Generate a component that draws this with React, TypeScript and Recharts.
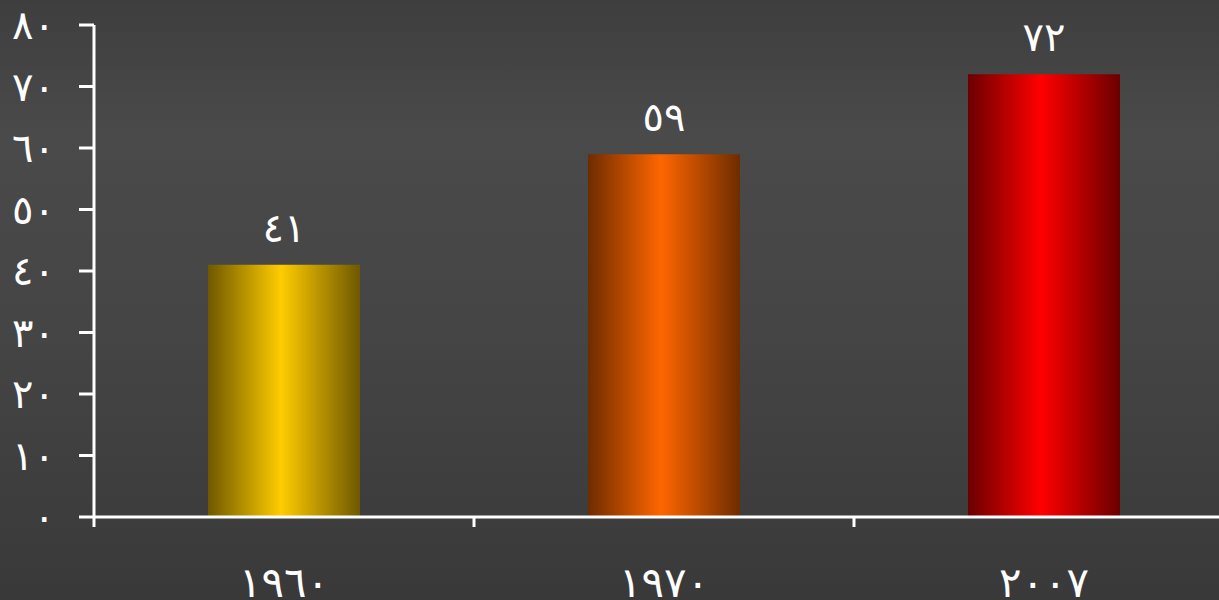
import React from 'react';
import { BarChart, Bar, XAxis, YAxis, Cell, LabelList } from 'recharts';

const categories = ['١٩٦٠', '١٩٧٠', '٢٠٠٧'];
const values = [41, 59, 72];
const yTicks = [0, 10, 20, 30, 40, 50, 60, 70, 80];
const frameTicks = [0, 1, 2, 3];
const barEdgeColors = ['#6f5800', '#6e2c00', '#6a0000'];
const barMidColors = ['#ffcc00', '#ff6600', '#ff0000'];

const AR = '٠١٢٣٤٥٦٧٨٩';
const toArabic = (n: number | string) => String(n).replace(/[0-9]/g, (d) => AR[Number(d)]);

const data = categories.map((c, i) => ({ name: c, value: values[i], pos: i + 0.5 }));

const FONT = '"DejaVu Sans", sans-serif';

export default function App() {
  return (
    <div style={{ position: 'fixed', left: 0, top: 0, width: 1219, height: 600, overflow: 'hidden',
      background: 'linear-gradient(to bottom, #3e3e3e 0%, #4a4a4a 22%, #454545 55%, #393939 100%)' }}>
      <BarChart width={1234} height={600} data={data}
        margin={{ top: 25, right: 0, left: 0, bottom: 0 }} barCategoryGap="30%">
        <defs>
          {barMidColors.map((c, i) => (
            <linearGradient key={i} id={`g${i}`} x1="0" y1="0" x2="1" y2="0">
              <stop offset="0%" stopColor={barEdgeColors[i]} />
              <stop offset="48%" stopColor={c} />
              <stop offset="100%" stopColor={barEdgeColors[i]} />
            </linearGradient>
          ))}
        </defs>
        <XAxis xAxisId={0} dataKey="pos" type="number" scale="linear" domain={[0, 3]} ticks={frameTicks}
          height={10} axisLine={{ stroke: '#ffffff', strokeWidth: 3 }}
          tickLine={{ stroke: '#ffffff', strokeWidth: 3 }} tickSize={10}
          tickFormatter={() => ''} allowDataOverflow interval={0} />
        <XAxis xAxisId="lbl" dataKey="name" height={73} axisLine={false} tickLine={false} tickSize={0} tickMargin={40}
          tick={{ fill: '#ffffff', fontSize: 42, fontFamily: FONT }} interval={0} />
        <YAxis domain={[0, 80]} ticks={yTicks} width={94} tickSize={15} tickMargin={24}
          axisLine={{ stroke: '#ffffff', strokeWidth: 3 }} tickLine={{ stroke: '#ffffff', strokeWidth: 3 }}
          tick={{ fill: '#ffffff', fontSize: 40, fontFamily: FONT }} tickFormatter={(v) => toArabic(v)}
          interval={0} />
        <Bar dataKey="value" xAxisId="lbl" isAnimationActive={false}>
          {data.map((d, i) => (
            <Cell key={d.name} fill={`url(#g${i})`} />
          ))}
          <LabelList dataKey="value" position="top" offset={23} formatter={(v: any) => toArabic(v)}
            style={{ fill: '#ffffff', fontSize: 40, fontFamily: FONT }} />
        </Bar>
      </BarChart>
    </div>
  );
}
